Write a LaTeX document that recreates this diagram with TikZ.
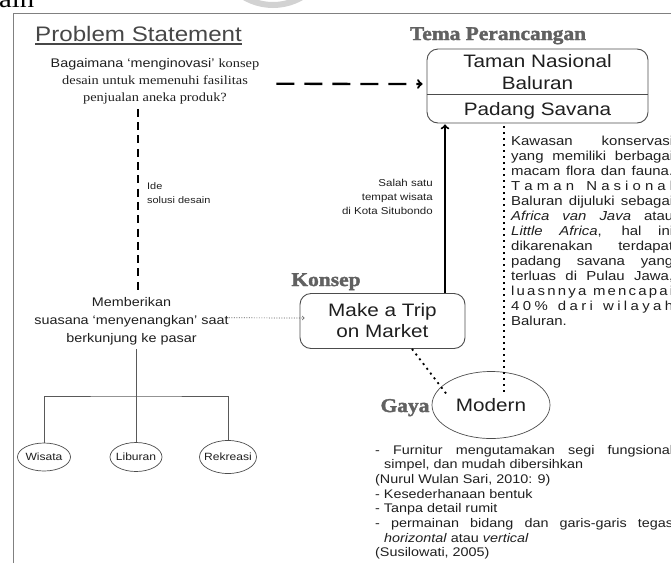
\documentclass[tikz,border=0pt]{standalone}
\usepackage{fontspec}
\setmainfont{Liberation Sans}[FakeStretch=1.15]
\newfontfamily\serifface{Liberation Serif}[FakeStretch=1.15]
\newfontfamily\headface{Liberation Serif}[FakeStretch=1.1,FakeBold=1.8]
\usepackage{tikz}
\usetikzlibrary{positioning,shapes.geometric}
\definecolor{inkgray}{gray}{0.12}
\definecolor{headgray}{gray}{0.38}
\definecolor{psgray}{gray}{0.28}
\definecolor{boxgray}{gray}{0.3}
\definecolor{branchgray}{gray}{0.35}
\definecolor{framegray}{gray}{0.5}

\begin{document}
\begin{tikzpicture}[x=1pt, y=-1pt,
	txt/.style={inner sep=0pt, text=inkgray},
	head/.style={inner sep=0pt, text=headgray, font=\headface\bfseries\fontsize{19.5}{19.5}\selectfont},
	rbox/.style={draw=boxgray, line width=0.9pt, rounded corners=11pt, inner sep=0pt},
	oval/.style={draw=boxgray, ellipse, line width=0.7pt, inner sep=0pt, text=inkgray},
	branch/.style={draw=branchgray, line width=0.8pt},
	dashline/.style={line width=2.5pt, dash pattern=on 8pt off 5.3pt},
	dasharrow/.style={->, line width=2.3pt, dash pattern=on 18pt off 10pt},
	uparrow/.style={->, line width=2pt},
	dotline/.style={line width=1.8pt, dash pattern=on 2pt off 4pt},
	dotarrow/.style={->, draw=branchgray, line width=0.7pt, dash pattern=on 1pt off 1.5pt}]
\useasboundingbox (0,0) rectangle (671,563);
\draw[gray!35, line width=6pt] (273,-52) circle (57);
\draw[framegray, line width=1pt] (13,563) -- (13,13) -- (671,13);
\node[anchor=base west, inner sep=0pt, font=\serifface\fontsize{25}{25}\selectfont] at (-1,7) (ain) {ain};

\node[txt, anchor=base west, text=psgray, font=\fontsize{21}{21}\selectfont] at (35,41) (prob) {Problem Statement};
\draw[psgray, line width=1.2pt] ([yshift=-3pt]prob.base west) -- ([yshift=-3pt]prob.base east);
\node[txt, anchor=base, align=center, font=\fontsize{12.5}{17}\selectfont] at (155,101) (quest)
	{Bagaimana ‘menginovasi’ {\serifface konsep}\\{\serifface desain untuk memenuhi fasilitas}\\{\serifface penjualan aneka produk?}};
\node[txt, anchor=base west, align=left, font=\fontsize{9.5}{14}\selectfont] at (147,203) (ide) {Ide\\solusi desain};
\node[txt, anchor=base, align=center, font=\fontsize{12.5}{18}\selectfont] at (131.5,342) (mem)
	{Memberikan\\suasana ‘menyenangkan’ saat\\berkunjung ke pasar};
\foreach \x/\w/\h/\n in {44/53/28/Wisata,136/52/29/Liburan,228/57/33/Rekreasi} {
	\node[oval, minimum width=\w, minimum height=\h, font=\fontsize{10.5}{10.5}\selectfont] at(\x,457) (\n) {\makebox[0pt]{\n}};
};
\coordinate (fork) at (136,396);
\draw[branch, shorten <=4pt] (mem.south -| Liburan.north) -- (Liburan.north);
\draw[branch] (Wisata.north) |- (fork) -| (Rekreasi.north);
\draw[dashline, shorten <=5pt, shorten >=4pt] ([xshift=-17pt]quest.south) -- ([xshift=6.5pt]mem.north);

\node[head, anchor=base] at (498,40) (tema) {Tema Perancangan};
\node[rbox, minimum width=221, minimum height=74] at (537.5,86) (taman) {};
\draw[boxgray, line width=0.9pt] ([yshift=-8pt]taman.west) -- ([yshift=-8pt]taman.east);
\node[txt, anchor=base, align=center, font=\fontsize{18}{22}\selectfont] at (537.5,89) (tnb) {Taman Nasional\\Baluran};
\node[txt, anchor=base, font=\fontsize{18}{18}\selectfont] at (537.5,115) (pds) {Padang Savana};
\draw[dasharrow, shorten >=4pt] ([xshift=17pt,yshift=-3pt]quest.east) -- ([yshift=2pt]taman.west);

\node[head, anchor=base] at (326,286) (konsep) {Konsep};
\node[rbox, txt, minimum width=165, minimum height=55, align=center, font=\fontsize{18}{21}\selectfont] at (382.5,321) (trip) {Make a Trip\\on Market};
\draw[uparrow, shorten >=1pt] ([xshift=62.5pt]trip.north) -- ([xshift=-92.5pt]taman.south);
\node[txt, anchor=base east, align=right, font=\fontsize{10}{14}\selectfont] at (433,214) (salah)
	{Salah satu\\tempat wisata\\di Kota Situbondo};
\draw[dotarrow] ([yshift=3pt]mem.east) -- ([xshift=5pt,yshift=3pt]trip.west);

\node[oval, minimum width=118, minimum height=67, font=\fontsize{18}{18}\selectfont] at (491,405) (modern) {\makebox[0pt]{Modern}};
\node[head, anchor=base] at (405,412) (gaya) {Gaya};
\draw[dotline, shorten <=3pt] ([xshift=-33.5pt]taman.south) -- ([xshift=13pt,yshift=13pt]modern.center);
\draw[dotline] ([xshift=29.5pt]trip.south) -- ([xshift=-43pt,yshift=9pt]modern.center);

\node[txt, anchor=base west, text width=162pt, align=justify, font=\fontsize{13}{15}\selectfont] at (511,145) (kawasan)
	{\tolerance=10000\relax
	Kawasan konservasi\linebreak
	yang memiliki berbagai\linebreak
	macam flora dan fauna.\linebreak
	T\hfill a\hfill m\hfill a\hfill n\hfill\hfill\hfill N\hfill a\hfill s\hfill i\hfill o\hfill n\hfill a\hfill l\linebreak
	Baluran dijuluki sebagai\linebreak
	\textit{Africa van Java} atau\linebreak
	\textit{Little Africa}, hal ini\linebreak
	dikarenakan terdapat\linebreak
	padang savana yang\linebreak
	terluas di Pulau Jawa,\linebreak
	l\hfill u\hfill a\hfill s\hfill n\hfill n\hfill y\hfill a\hfill\hfill\hfill m\hfill e\hfill n\hfill c\hfill a\hfill p\hfill a\hfill i\linebreak
	4\hfill 0\hfill \%\hfill\hfill\hfill d\hfill a\hfill r\hfill i\hfill\hfill\hfill w\hfill i\hfill l\hfill a\hfill y\hfill a\hfill h\linebreak
	Baluran.};
\node[txt, anchor=base west, text width=298pt, align=justify, font=\fontsize{12.5}{14.7}\selectfont] at (375,454) (ciri)
	{\tolerance=10000\relax
	- Furnitur mengutamakan segi fungsional\linebreak
	\hspace*{9pt}simpel, dan mudah dibersihkan\\
	(Nurul Wulan Sari, 2010: 9)\\
	- Kesederhanaan bentuk\\
	- Tanpa detail rumit\\
	- permainan bidang dan garis-garis tegas\linebreak
	\hspace*{9pt}\textit{horizontal} atau \textit{vertical}\\
	(Susilowati, 2005)};
\end{tikzpicture}
\end{document}
